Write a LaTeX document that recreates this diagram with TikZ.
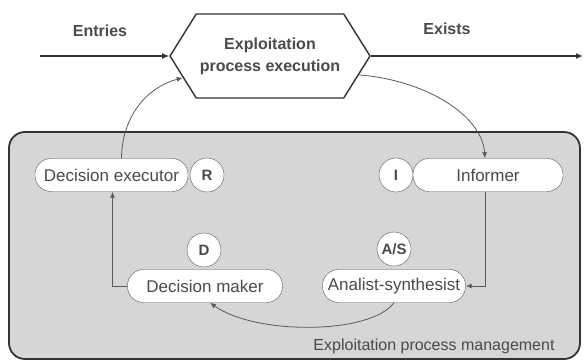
\documentclass[tikz,border=0pt]{standalone}
\usepackage{fontspec}
\setmainfont{Liberation Sans}
\usetikzlibrary{shapes.symbols,arrows.meta}
\definecolor{boxgray}{HTML}{D6D6D6}
\definecolor{inkgray}{HTML}{4A4A4A}
\definecolor{edgegray}{HTML}{5A5A5A}

\begin{document}
\begin{tikzpicture}[x=1pt, y=-1pt, every node/.style={text=inkgray, font=\fontsize{17}{19}\selectfont}, role/.style={draw=edgegray, fill=white, rounded corners=16pt, minimum height=33pt, inner sep=0pt}, tag/.style={circle, draw=edgegray, fill=white, minimum size=34pt, inner sep=0pt, font=\bfseries\fontsize{15}{17}\selectfont}, link/.style={draw=edgegray, line width=0.8pt, -{Latex[length=6pt,width=5pt]}}, flow/.style={draw=black!80, line width=1.4pt, -{Latex[length=7pt,width=6pt]}}]
			\useasboundingbox (0,0) rectangle (584,361);
			\draw[fill=boxgray, draw=black!80, line width=1.8pt, rounded corners=16pt] (9,132) rectangle (580,359);
			
			\node[shape=signal, signal to=west and east, signal pointer angle=116, draw=black!80, line width=1.4pt, fill=white, minimum width=200pt, minimum height=84pt, align=center, font=\bfseries\fontsize{16}{22}\selectfont] (hex) at (270,56){Exploitation\\process execution};
			\node[font=\bfseries\fontsize{16}{18}\selectfont] (entries) at (100,31){Entries};
			\node[font=\bfseries\fontsize{16}{18}\selectfont] (exists) at (447,29){Exists};
			\coordinate (in) at (40,56);
			\coordinate (out) at (583,56);
			
			\node[tag] (r) at (207,175){R};
			\node[tag] (i) at (396,175){I};
			\node[tag] (d) at (204,250){D};
			\node[tag] (as) at (394,249){A/S};
			
			\node[role, minimum width=153pt] (exec) at (111.5,175){Decision executor};
			\node[role, minimum width=150pt] (inf) at (488,175){Informer};
			\node[role, minimum width=155pt] (maker) at (205,286){Decision maker};
			\node[role, minimum width=143pt] (anal) at (394,286){Analist-synthesist};
			
			\node[font=\fontsize{16}{18}\selectfont] (mgmt) at (434,346){Exploitation process management};
			
			\draw[flow] (in) -- (hex.west);
			\draw[flow] (hex.east) -- (out);
			\coordinate (e1) at ([xshift=10pt]exec.north);
			\draw[link] (e1) .. controls (122,118) and (145,88) .. (hex.-166);
			\draw[link] (hex.-12) .. controls (425,80) and (482,115) .. ([xshift=-3pt]inf.north);
			\draw[link] ([xshift=-3pt]inf.south) |- (anal.east);
			\draw[link] (anal.south) .. controls (370,335) and (255,335) .. ([xshift=5pt]maker.south);
			\draw[link] (maker.west) -| ([xshift=1pt]exec.south);
			\end{tikzpicture}
\end{document}
